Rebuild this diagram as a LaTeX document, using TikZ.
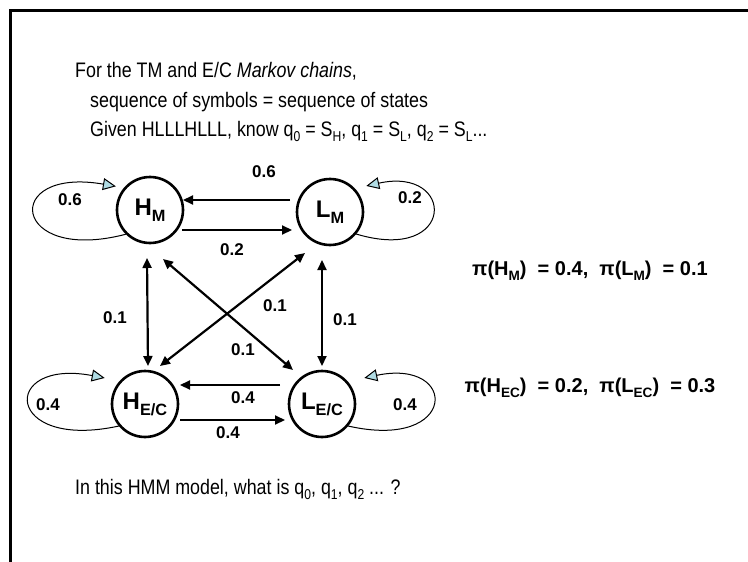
\documentclass[tikz,border=0pt]{standalone}
\usepackage{fontspec}
\setmainfont{Liberation Sans}
\usetikzlibrary{arrows.meta}
\definecolor{loopblue}{RGB}{176,220,228}
\newcommand{\sbs}[1]{\raisebox{-0.25em}{\scalebox{0.68}{#1}}}
\newcommand{\nar}[1]{\scalebox{0.85}[1]{#1}}
\begin{document}
\begin{tikzpicture}[x=1pt,y=-1pt,
  state/.style={circle, draw, line width=2.6pt, minimum size=66pt, inner sep=0pt, font=\bfseries\fontsize{24}{28}\selectfont},
  arr/.style={line width=2.2pt, -{Triangle[length=10pt,width=9pt]}},
  darr/.style={line width=2.2pt, {Triangle[length=10pt,width=9pt]}-{Triangle[length=10pt,width=9pt]}},
  selfloop/.style={line width=1pt, -{Triangle[length=13pt,width=12pt,fill=loopblue]}},
  lbl/.style={font=\bfseries\fontsize{17}{20}\selectfont, inner sep=0pt},
  txt/.style={font=\fontsize{21}{25}\selectfont, anchor=base west, inner sep=0pt},
  pitxt/.style={font=\bfseries\fontsize{20}{24}\selectfont, inner sep=0pt}]
\useasboundingbox (0,0) rectangle (748,562);
\draw[line width=3pt] (10,562) -- (10,10) -- (748,10);

\node[txt] (t1) at (75,77) {\nar{For the TM and E/C \textit{Markov chains},}};
\node[txt] (t2) at (90,107) {\nar{sequence of symbols = sequence of states}};
\node[txt] (t3) at (90,136) {\nar{Given HLLLHLLL, know q\sbs{0} = S\sbs{H}, q\sbs{1} = S\sbs{L}, q\sbs{2} = S\sbs{L}...}};
\node[txt] (t4) at (75,494) {\nar{In this HMM model, what is q\sbs{0}, q\sbs{1}, q\sbs{2} ... ?}};

\node[state] (HM) at (150,210) {H\sbs{M}};
\node[state] (LM) at (330,212) {L\sbs{M}};
\node[state] (HEC) at (145,404) {H\sbs{E/C}};
\node[state] (LEC) at (322,404) {L\sbs{E/C}};

\draw[selfloop] (HM.225) .. controls +(-115,30) and +(-115,-20) .. ([shift={(-6,-4)}]HM.145);
\draw[selfloop] (LM.-40) .. controls +(100,30) and +(90,-20) .. ([shift={(10,-4)}]LM.40);
\draw[selfloop] (HEC.220) .. controls +(-115,25) and +(-105,-20) .. ([shift={(-14,-4)}]HEC.140);
\draw[selfloop] (LEC.-40) .. controls +(110,25) and +(95,-20) .. ([shift={(16,-4)}]LEC.40);

\draw[arr] ([shift={(-40,-12)}]LM.center) -- ([shift={(33,-10)}]HM.center);
\draw[arr] ([shift={(32,20)}]HM.center) -- ([shift={(-38,18)}]LM.center);
\draw[arr] ([shift={(-42,-19)}]LEC.center) -- ([shift={(35,-19)}]HEC.center);
\draw[arr] ([shift={(35,16)}]HEC.center) -- ([shift={(-37,16)}]LEC.center);
\draw[darr] ([shift={(-3,48)}]HM.center) -- ([shift={(3,-38)}]HEC.center);
\draw[darr] ([shift={(-8,48)}]LM.center) -- ([shift={(0,-38)}]LEC.center);
\draw[darr] ([shift={(13,49)}]HM.center) -- ([shift={(-29,-34)}]LEC.center);
\draw[darr] ([shift={(15,-38)}]HEC.center) -- ([shift={(-25,41)}]LM.center);

\node[lbl] (l1) at (264,172) {0.6};
\node[lbl] (l2) at (232,250) {0.2};
\node[lbl] (l3) at (70,200) {0.6};
\node[lbl] (l4) at (410,198) {0.2};
\node[lbl] (l5) at (115,318) {0.1};
\node[lbl] (l6) at (275,306) {0.1};
\node[lbl] (l7) at (345,320) {0.1};
\node[lbl] (l8) at (243,350) {0.1};
\node[lbl] (l9) at (48,405) {0.4};
\node[lbl] (l10) at (405,405) {0.4};
\node[lbl] (l11) at (243,398) {0.4};
\node[lbl] (l12) at (228,433) {0.4};

\node[pitxt] (p1) at (590,271) {π(H\sbs{M})\ \ = 0.4,\ \ π(L\sbs{M})\ \ = 0.1};
\node[pitxt] (p2) at (590,388) {π(H\sbs{EC})\ \ = 0.2,\ \ π(L\sbs{EC})\ \ = 0.3};
\end{tikzpicture}
\end{document}
